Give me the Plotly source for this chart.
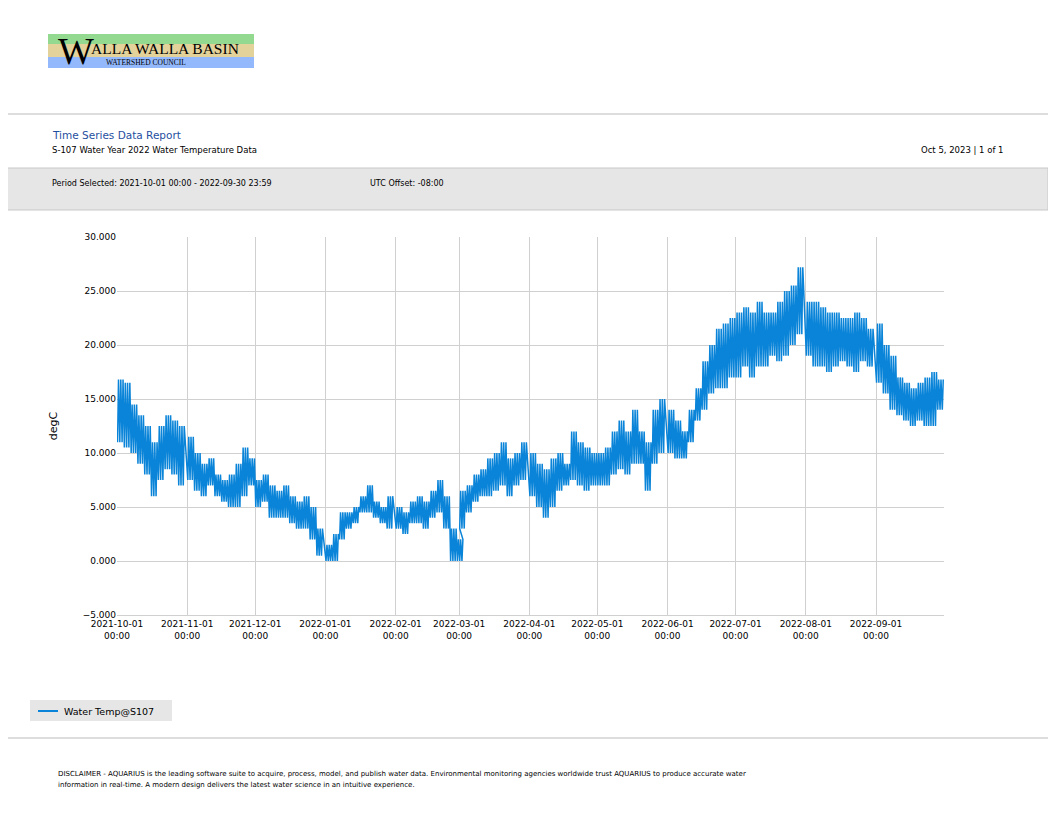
import pandas as pd
import plotly.graph_objects as go

# page body adds an 8px margin, so the figure is drawn 16px smaller
W, H = 1040, 800
OFF = 8

# readings every 3 days: daily low / daily high (degC)
months = ["2021-10", "2021-11", "2021-12", "2022-01", "2022-02", "2022-03",
          "2022-04", "2022-05", "2022-06", "2022-07", "2022-08", "2022-09"]
day_of_month = [1, 4, 7, 10, 13, 16, 19, 22, 25, 28]
highs = [
    [16.8, 16.5, 14.5, 13.5, 12.5, 11.0, 12.5, 13.5, 13.0, 12.5],
    [11.5, 10.0, 9.0, 9.5, 8.0, 7.5, 8.0, 9.0, 10.5, 9.5],
    [7.5, 8.0, 7.0, 6.5, 7.0, 6.0, 5.5, 6.0, 5.0, 3.0],
    [1.5, 2.5, 4.5, 4.5, 5.0, 6.0, 7.0, 5.5, 5.0, 6.0],
    [5.0, 4.5, 5.5, 6.0, 5.5, 6.5, 7.5, 6.0, 3.0, 2.0],
    [6.5, 7.0, 8.0, 8.5, 9.5, 10.0, 11.0, 9.5, 10.0, 11.0],
    [10.0, 9.0, 8.5, 9.5, 10.0, 9.0, 12.0, 11.0, 10.5, 10.0],
    [10.0, 10.5, 12.0, 13.0, 12.0, 14.0, 12.0, 11.0, 14.0, 15.0],
    [14.0, 13.0, 12.0, 14.0, 16.0, 18.5, 20.0, 21.5, 22.0, 22.5],
    [23.0, 23.5, 23.0, 24.0, 23.0, 23.0, 24.0, 25.0, 25.5, 27.2],
    [24.0, 24.0, 23.5, 23.0, 23.0, 22.5, 22.5, 23.0, 22.5, 21.5],
    [22.0, 20.0, 19.0, 17.0, 16.5, 16.0, 16.5, 17.0, 17.5, 16.8],
]
lows = [
    [11.0, 10.5, 10.0, 9.0, 8.0, 6.0, 7.5, 8.5, 8.0, 7.0],
    [7.5, 6.5, 6.0, 7.0, 6.0, 5.5, 5.0, 5.0, 6.0, 7.0],
    [5.0, 5.5, 4.0, 4.0, 4.0, 3.5, 3.0, 3.0, 2.0, 0.5],
    [0.0, 0.0, 2.0, 3.0, 3.5, 4.5, 4.5, 4.0, 3.5, 3.0],
    [3.0, 2.5, 3.5, 3.5, 3.0, 4.0, 4.5, 3.0, 0.0, 0.0],
    [3.0, 4.5, 5.5, 6.0, 6.0, 6.5, 7.0, 6.0, 7.0, 7.5],
    [6.0, 5.0, 4.0, 5.0, 6.5, 7.0, 7.5, 7.0, 6.5, 7.0],
    [7.0, 7.0, 8.0, 8.5, 8.0, 9.0, 9.0, 6.5, 9.0, 10.0],
    [10.0, 9.5, 9.5, 11.0, 13.0, 14.0, 15.5, 16.0, 16.0, 17.0],
    [17.0, 18.0, 17.0, 18.0, 18.0, 19.0, 18.5, 19.0, 20.0, 21.0],
    [19.0, 18.0, 18.0, 17.5, 18.0, 18.5, 18.0, 17.5, 18.5, 18.0],
    [16.5, 15.5, 14.0, 13.5, 13.0, 12.5, 13.0, 12.5, 12.5, 14.0],
]

xs, ys = [], []
for m, hi_row, lo_row in zip(months, highs, lows):
    for d, lo, hi in zip(day_of_month, lo_row, hi_row):
        base = pd.Timestamp(f"{m}-{d:02d}")
        for k in range(3):
            xs.append(base + pd.Timedelta(days=k, hours=6))
            ys.append(lo)
            xs.append(base + pd.Timedelta(days=k, hours=16))
            ys.append(hi)

tick_vals = [f"{m}-01" for m in months]
tick_text = [f"{m}-01<br>00:00" for m in months]


def px(x):
    return (x - OFF) / W


def py(y):
    return 1 - (y - OFF) / H


fig = go.Figure()
fig.add_trace(go.Scatter(x=xs, y=ys, mode="lines", line=dict(color="#0a84d8", width=1.5),
                         showlegend=False))

shapes = [
    dict(type="rect", x0=px(48), x1=px(254), y0=py(44), y1=py(34), fillcolor="#93d98f", line_width=0),
    dict(type="rect", x0=px(48), x1=px(254), y0=py(57), y1=py(44), fillcolor="#e3d29a", line_width=0),
    dict(type="rect", x0=px(48), x1=px(254), y0=py(68), y1=py(57), fillcolor="#93b8fb", line_width=0),
    dict(type="line", x0=px(0), x1=1, y0=py(114), y1=py(114), line=dict(color="#bbbbbb", width=1)),
    dict(type="rect", x0=px(0), x1=1, y0=py(210), y1=py(168), fillcolor="#e6e6e6",
         line=dict(color="#c8c8c8", width=1)),
    dict(type="rect", x0=px(30), x1=px(172), y0=py(721), y1=py(700), fillcolor="#e6e6e6", line_width=0),
    dict(type="line", x0=px(38), x1=px(58), y0=py(711), y1=py(711), line=dict(color="#0a84d8", width=2)),
    dict(type="line", x0=px(0), x1=1, y0=py(738), y1=py(738), line=dict(color="#bbbbbb", width=1)),
]
for s in shapes:
    s.update(xref="paper", yref="paper", layer="below")

f = "DejaVu Sans"
ann = [
    dict(x=px(56), y=py(51), text="W", font=dict(family="Liberation Serif", size=38, color="black")),
    dict(x=px(89), y=py(48), text="ALLA WALLA BASIN", font=dict(family="Liberation Serif", size=15.5, color="black")),
    dict(x=px(104), y=py(62), text="WATERSHED COUNCIL", font=dict(family="Liberation Serif", size=7.5, color="black")),
    dict(x=px(50), y=py(135), text="Time Series Data Report", font=dict(family=f, size=10.5, color="#1f4fa0")),
    dict(x=px(50), y=py(150), text="S-107 Water Year 2022 Water Temperature Data", font=dict(family=f, size=8.5, color="black")),
    dict(x=px(1006), y=py(150), text="Oct 5, 2023 | 1 of 1", xanchor="right", font=dict(family=f, size=8.5, color="black")),
    dict(x=px(50), y=py(183), text="Period Selected: 2021-10-01 00:00 - 2022-09-30 23:59", font=dict(family=f, size=8, color="black")),
    dict(x=px(368), y=py(183), text="UTC Offset: -08:00", font=dict(family=f, size=8, color="black")),
    dict(x=px(62), y=py(711), text="Water Temp@S107", font=dict(family=f, size=9.5, color="black")),
    dict(x=px(56), y=py(774), text="DISCLAIMER - AQUARIUS is the leading software suite to acquire, process, model, and publish water data. Environmental monitoring agencies worldwide trust AQUARIUS to produce accurate water",
         font=dict(family=f, size=7, color="black")),
    dict(x=px(56), y=py(785), text="information in real-time. A modern design delivers the latest water science in an intuitive experience.",
         font=dict(family=f, size=7, color="black")),
]
for a in ann:
    a.setdefault("xanchor", "left")
    a.update(xref="paper", yref="paper", yanchor="middle", showarrow=False)

fig.update_layout(
    width=W, height=H, margin=dict(l=0, r=0, t=0, b=0),
    paper_bgcolor="white", plot_bgcolor="white",
    font=dict(family=f, size=10, color="black"),
    shapes=shapes, annotations=ann,
    xaxis=dict(domain=[px(117), px(944)], range=["2021-10-01", "2022-09-30 23:59"],
               tickvals=tick_vals, ticktext=tick_text, showgrid=True, gridcolor="#d0d0d0",
               showline=True, linecolor="#d0d0d0", ticks="", tickfont=dict(size=9),
               automargin=False),
    yaxis=dict(domain=[py(615), py(237)], range=[-5, 30], dtick=5, tickformat=".3f",
               showgrid=True, gridcolor="#d0d0d0", zeroline=False, tickfont=dict(size=9),
               automargin=False, title=dict(text="degC", font=dict(size=11), standoff=22)),
)

fig.write_html("out.html")
